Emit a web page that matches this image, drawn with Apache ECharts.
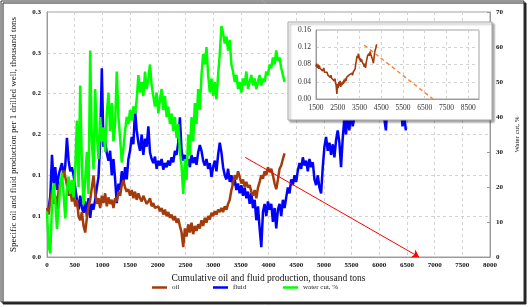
<!DOCTYPE html>
<html><head><meta charset="utf-8">
<script src="https://cdn.jsdelivr.net/npm/echarts@6/dist/echarts.min.js"></script>
<style>html,body{margin:0;padding:0;background:#fff}#c{width:530px;height:307px}</style>
</head><body><div id="c"></div>
<script>
// Cumulative oil and fluid production, thousand tons (shared x values)
const cumulative = [
0,30,60,90,120,150,180,210,240,270,
300,330,360,390,420,450,480,510,540,570,
600,630,660,690,720,750,780,810,840,870,
900,930,960,990,1020,1050,1080,1110,1140,1170,
1200,1230,1260,1290,1320,1350,1380,1410,1440,1470,
1500,1530,1560,1590,1620,1650,1680,1710,1740,1770,
1800,1830,1860,1890,1920,1950,1980,2010,2040,2070,
2100,2130,2160,2190,2220,2250,2280,2310,2340,2370,
2400,2430,2460,2490,2520,2550,2580,2610,2640,2670,
2700,2730,2760,2790,2820,2850,2880,2910,2940,2970,
3000,3030,3060,3090,3120,3150,3180,3210,3240,3270,
3300,3330,3360,3390,3420,3450,3480,3510,3540,3570,
3600,3630,3660,3690,3720,3750,3780,3810,3840,3870,
3900,3930,3960,3990,4020,4050,4080,4110,4140,4170,
4200,4230,4260,4290,4320,4350,4380,4410,4440,4470,
4500,4530,4560,4590,4620,4650,4680,4710,4740,4770,
4800,4830,4860,4890,4920,4950,4980,5010,5040,5070,
5100,5130,5160,5190,5220,5250,5280,5310,5340,5370,
5400,5430,5460,5490,5520,5550,5580,5610,5640,5670,
5700,5730,5760,5790,5820,5850,5880,5910,5940,5970,
6000,6030,6060,6090,6120,6150,6180,6210,6240,6270,
6300,6330,6360,6390,6420,6450,6480
];
// Specific oil production per 1 drilled well, thousand tons
const oil = [
0.06,0.052,0.07,0.08,0.065,0.075,0.058,0.082,0.09,0.095,
0.106,0.098,0.088,0.075,0.082,0.068,0.078,0.062,0.07,0.05,
0.045,0.055,0.038,0.03,0.048,0.062,0.07,0.085,0.1,0.078,
0.065,0.072,0.06,0.075,0.066,0.078,0.062,0.073,0.065,0.07,
0.06,0.072,0.068,0.08,0.075,0.088,0.094,0.085,0.08,0.083,
0.075,0.082,0.072,0.08,0.07,0.078,0.072,0.068,0.075,0.07,
0.065,0.068,0.072,0.062,0.066,0.06,0.058,0.062,0.056,0.06,
0.052,0.058,0.05,0.055,0.048,0.052,0.045,0.05,0.042,0.047,
0.038,0.03,0.012,0.035,0.025,0.04,0.03,0.042,0.028,0.038,
0.032,0.04,0.035,0.045,0.038,0.048,0.042,0.05,0.046,0.054,
0.05,0.056,0.052,0.058,0.055,0.06,0.055,0.062,0.058,0.065,
0.07,0.082,0.09,0.1,0.095,0.105,0.098,0.09,0.095,0.086,
0.092,0.085,0.088,0.08,0.075,0.082,0.072,0.085,0.092,0.1,
0.096,0.105,0.1,0.11,0.104,0.108,0.1,0.09,0.083,0.095,
0.108,0.112,0.12,0.127
];
// Specific fluid production per 1 drilled well, thousand tons
const fluid = [
0.057,0.06,0.075,0.125,0.09,0.11,0.082,0.1,0.108,0.115,
0.098,0.112,0.146,0.118,0.105,0.11,0.1,0.085,0.07,0.058,
0.075,0.06,0.054,0.068,0.05,0.072,0.048,0.065,0.058,0.07,
0.085,0.098,0.14,0.231,0.135,0.143,0.127,0.118,0.13,0.1,
0.12,0.095,0.066,0.09,0.082,0.105,0.088,0.11,0.095,0.12,
0.13,0.147,0.138,0.18,0.155,0.14,0.13,0.15,0.125,0.145,
0.135,0.16,0.128,0.12,0.115,0.123,0.108,0.118,0.112,0.12,
0.107,0.115,0.11,0.118,0.112,0.122,0.116,0.13,0.125,0.14,
0.171,0.13,0.118,0.125,0.112,0.12,0.11,0.125,0.115,0.122,
0.113,0.128,0.137,0.13,0.118,0.112,0.12,0.108,0.115,0.098,
0.11,0.118,0.105,0.125,0.14,0.128,0.11,0.1,0.095,0.108,
0.092,0.1,0.088,0.095,0.082,0.09,0.078,0.088,0.075,0.085,
0.072,0.08,0.065,0.078,0.06,0.07,0.045,0.062,0.035,0.012,
0.055,0.065,0.05,0.068,0.058,0.065,0.043,0.06,0.035,0.058,
0.065,0.05,0.07,0.06,0.073,0.085,0.078,0.095,0.088,0.1,
0.092,0.106,0.115,0.108,0.122,0.112,0.118,0.105,0.12,0.11,
0.116,0.095,0.088,0.1,0.085,0.078,0.11,0.135,0.147,0.13,
0.14,0.125,0.138,0.122,0.143,0.155,0.14,0.11,0.145,0.17,
0.15,0.175,0.155,0.18,0.16,0.17,0.175,0.18,0.19,0.185,
0.2,0.19,0.205,0.195,0.21,0.2,0.215,0.205,0.22,0.21,
0.2,0.215,0.19,0.17,0.155,0.19,0.2,0.185,0.21,0.195,
0.18,0.17,0.2,0.19,0.16,0.175,0.155
];
// Water cut, %
const waterCut = [
13,3,1,15,21,16,8,14,20,24,
18,11,19,23,18,22,17,25,39,20,
49,26,15,22,30,18,59,33,25,48,
35,28,40,33,37,30,41,47,36,44,
33,38,53,40,34,27,31,36,40,38,
42,39,43,41,45,52,47,50,46,53,
48,51,55,49,46,43,47,41,45,48,
42,46,40,43,38,41,36,40,34,38,
30,26,18,28,22,35,29,40,33,44,
38,48,42,52,58,55,60,52,47,51,
46,50,45,52,58,66,64,61,63,59,
62,55,53,50,52,48,50,47,51,49,
53,48,50,52,49,51,48,50,52,49,
51,50,53,52,55,54,57,55,59,56,
57,54,52,50
];
// Tick labels as printed on the reference
const leftTickLabels = ['0.0','0.1','0.1','0.2','0.2','0.3','0.3'];
// Trend lines (main: red arrow; inset: dashed forecast)
const mainTrendStart = [3580, 0.122];
const mainTrendEnd = [6720, 0];
const insetTrendX = [3720, 6880];
const insetTrendY = [0.125, 0];
const insetFromX = 1500;

const SERIF = '"Liberation Serif","Times New Roman",serif';
const oilData = oil.map((v, i) => [cumulative[i], v]);
const fluidData = fluid.map((v, i) => [cumulative[i], v]);
const waterData = waterCut.map((v, i) => [cumulative[i], v]);
const insetOilData = oilData.filter(p => p[0] >= insetFromX);
const insetTrendData = insetTrendX.map((x, i) => [x, insetTrendY[i]]);

const chart = echarts.init(document.getElementById('c'), null, {renderer: 'canvas'});
const gridLine = {show: true, lineStyle: {color: '#d2d2d2', type: [3, 3], width: 1}};
const axisGray = {show: true, lineStyle: {color: '#9a9a9a', width: 1}};
const mainLabel = {fontSize: 7, color: '#111', fontFamily: SERIF, fontWeight: 'bold'};
const insetLabel = {fontSize: 7.5, color: '#333', fontFamily: SERIF};
const plain = v => String(v);

const legendBase = {
  orient: 'horizontal', top: 284, padding: 0, itemWidth: 15, itemHeight: 2.5,
  icon: 'rect', itemGap: 0,
  textStyle: {fontSize: 7, color: '#222', fontFamily: SERIF}
};

const option = {
  animation: false,
  textStyle: {fontFamily: SERIF},
  graphic: {elements: [
    {type: 'rect', silent: true, z: -10,
     shape: {x: 1, y: 1, width: 523, height: 301},
     style: {fill: '#fff', stroke: '#333', lineWidth: 1, shadowColor: '#222', shadowOffsetX: 2, shadowOffsetY: 2, shadowBlur: 0}},
    {type: 'rect', silent: true, z: 10,
     shape: {x: 288, y: 22, width: 204, height: 98},
     style: {fill: '#fff', stroke: '#a6a6a6', lineWidth: 1, shadowColor: 'rgba(0,0,0,0.35)', shadowOffsetX: 2, shadowOffsetY: 2, shadowBlur: 2}}
  ]},
  grid: [
    {left: 47, right: 40, top: 12, bottom: 50, show: true, borderColor: '#a0a0a0', borderWidth: 1, backgroundColor: 'transparent'},
    {left: 316, right: 51, top: 30, bottom: 208, show: true, borderColor: '#a0a0a0', borderWidth: 1, backgroundColor: 'transparent', z: 11}
  ],
  xAxis: [
    {type: 'value', gridIndex: 0, min: 0, max: 8000, interval: 500,
     axisLine: axisGray, axisTick: {show: false}, splitLine: gridLine,
     axisLabel: Object.assign({margin: 5, formatter: plain}, mainLabel),
     name: 'Cumulative oil and fluid production, thousand tons', nameLocation: 'middle', nameGap: 11,
     nameTextStyle: {fontSize: 9.5, color: '#111', fontFamily: SERIF}},
    {type: 'value', gridIndex: 1, min: 1500, max: 9000, interval: 1000, z: 12,
     axisLine: axisGray, axisTick: {show: false}, splitLine: gridLine,
     axisLabel: Object.assign({margin: 5, showMaxLabel: false, formatter: plain}, insetLabel)}
  ],
  yAxis: [
    {type: 'value', gridIndex: 0, min: 0, max: 0.3, interval: 0.05, position: 'left',
     axisLine: axisGray, axisTick: {show: false}, splitLine: gridLine,
     axisLabel: Object.assign({margin: 6, formatter: v => leftTickLabels[Math.round(v / 0.05)]}, mainLabel),
     name: 'Specific oil and fluid production per 1 drilled well, thousand tons', nameLocation: 'middle', nameGap: 29,
     nameTextStyle: {fontSize: 9, color: '#111', fontFamily: SERIF}},
    {type: 'value', gridIndex: 0, min: 0, max: 70, interval: 10, position: 'right',
     axisLine: axisGray, axisTick: {show: true, inside: true, length: 3, lineStyle: {color: '#9a9a9a'}}, splitLine: {show: false},
     axisLabel: Object.assign({margin: 6, formatter: plain}, mainLabel),
     name: 'Water cut, %', nameLocation: 'middle', nameGap: 18,
     nameTextStyle: {fontSize: 7, color: '#111', fontFamily: SERIF}},
    {type: 'value', gridIndex: 1, min: 0, max: 0.16, interval: 0.04, z: 12,
     axisLine: axisGray, axisTick: {show: false}, splitLine: gridLine,
     axisLabel: Object.assign({margin: 5, formatter: v => v.toFixed(2)}, insetLabel)}
  ],
  legend: [
    Object.assign({}, legendBase, {left: 152, data: ['oil']}),
    Object.assign({}, legendBase, {left: 213, data: ['fluid']}),
    Object.assign({}, legendBase, {left: 283, data: ['water cut, %']})
  ],
  series: [
    {name: 'fluid', type: 'line', xAxisIndex: 0, yAxisIndex: 0, data: fluidData, showSymbol: false, z: 3,
     color: '#0000ff', lineStyle: {color: '#0000ff', width: 2.5}},
    {name: 'oil', type: 'line', xAxisIndex: 0, yAxisIndex: 0, data: oilData, showSymbol: false, z: 3,
     color: '#a33b0b', lineStyle: {color: '#a33b0b', width: 2.5}},
    {name: 'water cut, %', type: 'line', xAxisIndex: 0, yAxisIndex: 1, data: waterData, showSymbol: false, z: 3,
     color: '#00ff00', lineStyle: {color: '#00ff00', width: 2.5}},
    {name: 'trend', type: 'line', xAxisIndex: 0, yAxisIndex: 0, data: [mainTrendStart, mainTrendEnd], showSymbol: false, z: 4,
     lineStyle: {opacity: 0}, silent: true,
     markLine: {silent: true, symbol: ['none', 'arrow'], symbolSize: 7, label: {show: false},
       lineStyle: {color: '#ff0000', width: 1, type: 'solid'},
       itemStyle: {color: '#ff0000'},
       data: [[{coord: mainTrendStart}, {coord: mainTrendEnd}]]}},
    {name: 'oil inset', type: 'line', xAxisIndex: 1, yAxisIndex: 2, data: insetOilData, showSymbol: false, z: 13,
     lineStyle: {color: '#a33b0b', width: 1.6}},
    {name: 'inset trend', type: 'line', xAxisIndex: 1, yAxisIndex: 2, data: insetTrendData, showSymbol: false, z: 13,
     lineStyle: {color: '#f7883a', width: 1.5, type: [4, 3]}}
  ]
};
chart.setOption(option);
</script></body></html>
